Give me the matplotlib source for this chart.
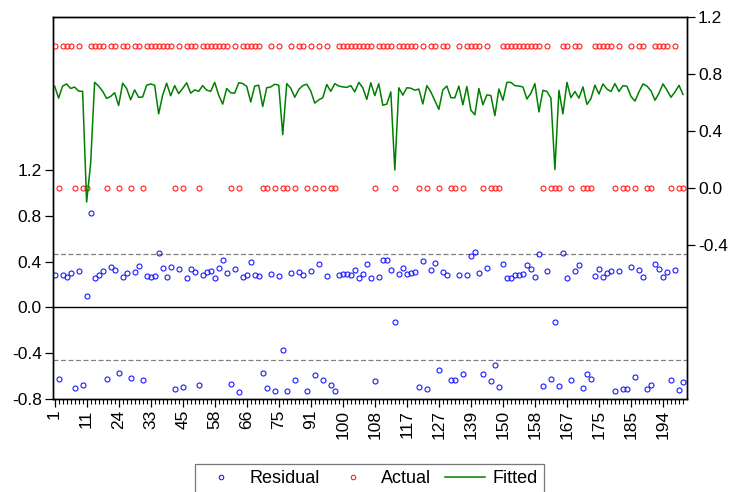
import numpy as np
import matplotlib
matplotlib.use("Agg")
import matplotlib.pyplot as plt

plt.rcParams['font.family'] = ['Liberation Sans', 'DejaVu Sans']

# observation labels shown on the x axis (every 8th observation)
obs_labels = ["1", "11", "24", "33", "45", "58", "66", "75", "91", "100",
              "108", "117", "127", "139", "150", "158", "167", "175", "185", "194"]

# actual (0/1) values, one per observation
actual = [1, 0, 1, 1, 1, 0, 1, 0, 0, 1, 1, 1, 1, 0, 1, 1, 0, 1, 1, 0,
          1, 1, 0, 1, 1, 1, 1, 1, 1, 1, 0, 1, 0, 1, 1, 1, 0, 1, 1, 1,
          1, 1, 1, 1, 0, 1, 0, 1, 1, 1, 1, 1, 0, 0, 1, 0, 1, 0, 0, 1,
          0, 1, 1, 0, 1, 0, 1, 0, 1, 0, 0, 1, 1, 1, 1, 1, 1, 1, 1, 1,
          0, 1, 1, 1, 1, 0, 1, 1, 1, 1, 1, 0, 1, 0, 1, 1, 0, 1, 1, 0,
          0, 1, 0, 1, 1, 1, 1, 0, 1, 0, 0, 0, 1, 1, 1, 1, 1, 1, 1, 1,
          1, 1, 0, 1, 0, 0, 0, 1, 1, 0, 1, 1, 0, 0, 0, 1, 1, 1, 1, 1,
          0, 1, 0, 0, 1, 0, 1, 1, 0, 0, 1, 1, 1, 1, 0, 1, 0, 0]

# fitted probabilities
fitted = [0.717, 0.632, 0.717, 0.732, 0.700, 0.710, 0.682, 0.680, -0.100, 0.170,
          0.743, 0.717, 0.680, 0.630, 0.644, 0.670, 0.580, 0.737, 0.700, 0.620,
          0.690, 0.638, 0.640, 0.723, 0.732, 0.723, 0.521, 0.653, 0.737, 0.649,
          0.720, 0.664, 0.700, 0.740, 0.667, 0.690, 0.680, 0.720, 0.688, 0.680,
          0.743, 0.653, 0.590, 0.700, 0.670, 0.667, 0.740, 0.735, 0.715, 0.605,
          0.717, 0.723, 0.573, 0.705, 0.711, 0.730, 0.723, 0.375, 0.734, 0.702,
          0.638, 0.693, 0.720, 0.730, 0.682, 0.597, 0.620, 0.635, 0.728, 0.680,
          0.734, 0.717, 0.711, 0.708, 0.720, 0.676, 0.743, 0.705, 0.623, 0.740,
          0.650, 0.734, 0.582, 0.590, 0.676, 0.126, 0.705, 0.653, 0.705, 0.702,
          0.688, 0.696, 0.591, 0.720, 0.676, 0.614, 0.553, 0.690, 0.717, 0.635,
          0.635, 0.717, 0.585, 0.714, 0.547, 0.515, 0.700, 0.585, 0.655, 0.650,
          0.509, 0.696, 0.617, 0.743, 0.743, 0.720, 0.717, 0.711, 0.626, 0.667,
          0.734, 0.535, 0.687, 0.679, 0.632, 0.129, 0.687, 0.521, 0.743, 0.635,
          0.679, 0.632, 0.711, 0.588, 0.629, 0.723, 0.661, 0.732, 0.696, 0.679,
          0.734, 0.679, 0.720, 0.716, 0.644, 0.611, 0.676, 0.732, 0.717, 0.684,
          0.617, 0.667, 0.732, 0.688, 0.638, 0.676, 0.722, 0.658]

actual = np.array(actual, dtype=float)
fitted = np.array(fitted)
residual = actual - fitted
obs = np.arange(len(actual))
sd = 0.466

fig, ax = plt.subplots(figsize=(7.35, 4.92), dpi=100)
fig.subplots_adjust(left=0.0721, right=0.9347, bottom=0.19, top=0.9645)
ax2 = ax.twinx()

# residual panel (left axis)
ax.axhline(0, color='black', lw=1.0, zorder=1)
ax.axhline(sd, color='gray', lw=0.9, ls=(0, (4, 2)), zorder=1)
ax.axhline(-sd, color='gray', lw=0.9, ls=(0, (4, 2)), zorder=1)
ax.plot(obs, residual, ls='none', marker='o', ms=3.6, mfc='none',
        mec='#1a1aff', mew=0.8, label='Residual')
ax.set_ylim(-0.8, 2.54)
ax.set_yticks([-0.8, -0.4, 0.0, 0.4, 0.8, 1.2])
ax.set_yticklabels(["-0.8", "-0.4", "0.0", "0.4", "0.8", "1.2"])

# actual / fitted (right axis)
ax2.plot(obs, actual, ls='none', marker='o', ms=3.6, mfc='none',
         mec='#ff2020', mew=0.8, label='Actual')
ax2.plot(obs, fitted, color='#008000', lw=1.1, label='Fitted')
ax2.set_ylim(-1.483, 1.2)
ax2.set_yticks([-0.4, 0.0, 0.4, 0.8, 1.2])
ax2.set_yticklabels(["-0.4", "0.0", "0.4", "0.8", "1.2"])

ax.set_xlim(-0.4, 158)
ax.set_xticks(obs[::8])
ax.set_xticklabels(obs_labels, rotation=90)
ax.set_xticks(obs, minor=True)

for a in (ax, ax2):
    a.tick_params(axis='both', which='major', direction='out', length=6,
                  width=0.9, labelsize=12.5, pad=2)
    a.tick_params(axis='x', which='minor', direction='out', length=3.5, width=0.8)
    for s in a.spines.values():
        s.set_linewidth(1.0)

h1, l1 = ax.get_legend_handles_labels()
h2, l2 = ax2.get_legend_handles_labels()
leg = fig.legend(h1 + h2, l1 + l2, loc='upper center', ncol=3,
                 bbox_to_anchor=(0.503, 0.057), borderaxespad=0, fontsize=13,
                 frameon=True, fancybox=False, edgecolor='#555555',
                 handlelength=2.2, handletextpad=0.45, columnspacing=0.75,
                 borderpad=0.35, markerscale=0.9)
leg.get_frame().set_linewidth(0.9)

fig.savefig("out.png", dpi=100)
